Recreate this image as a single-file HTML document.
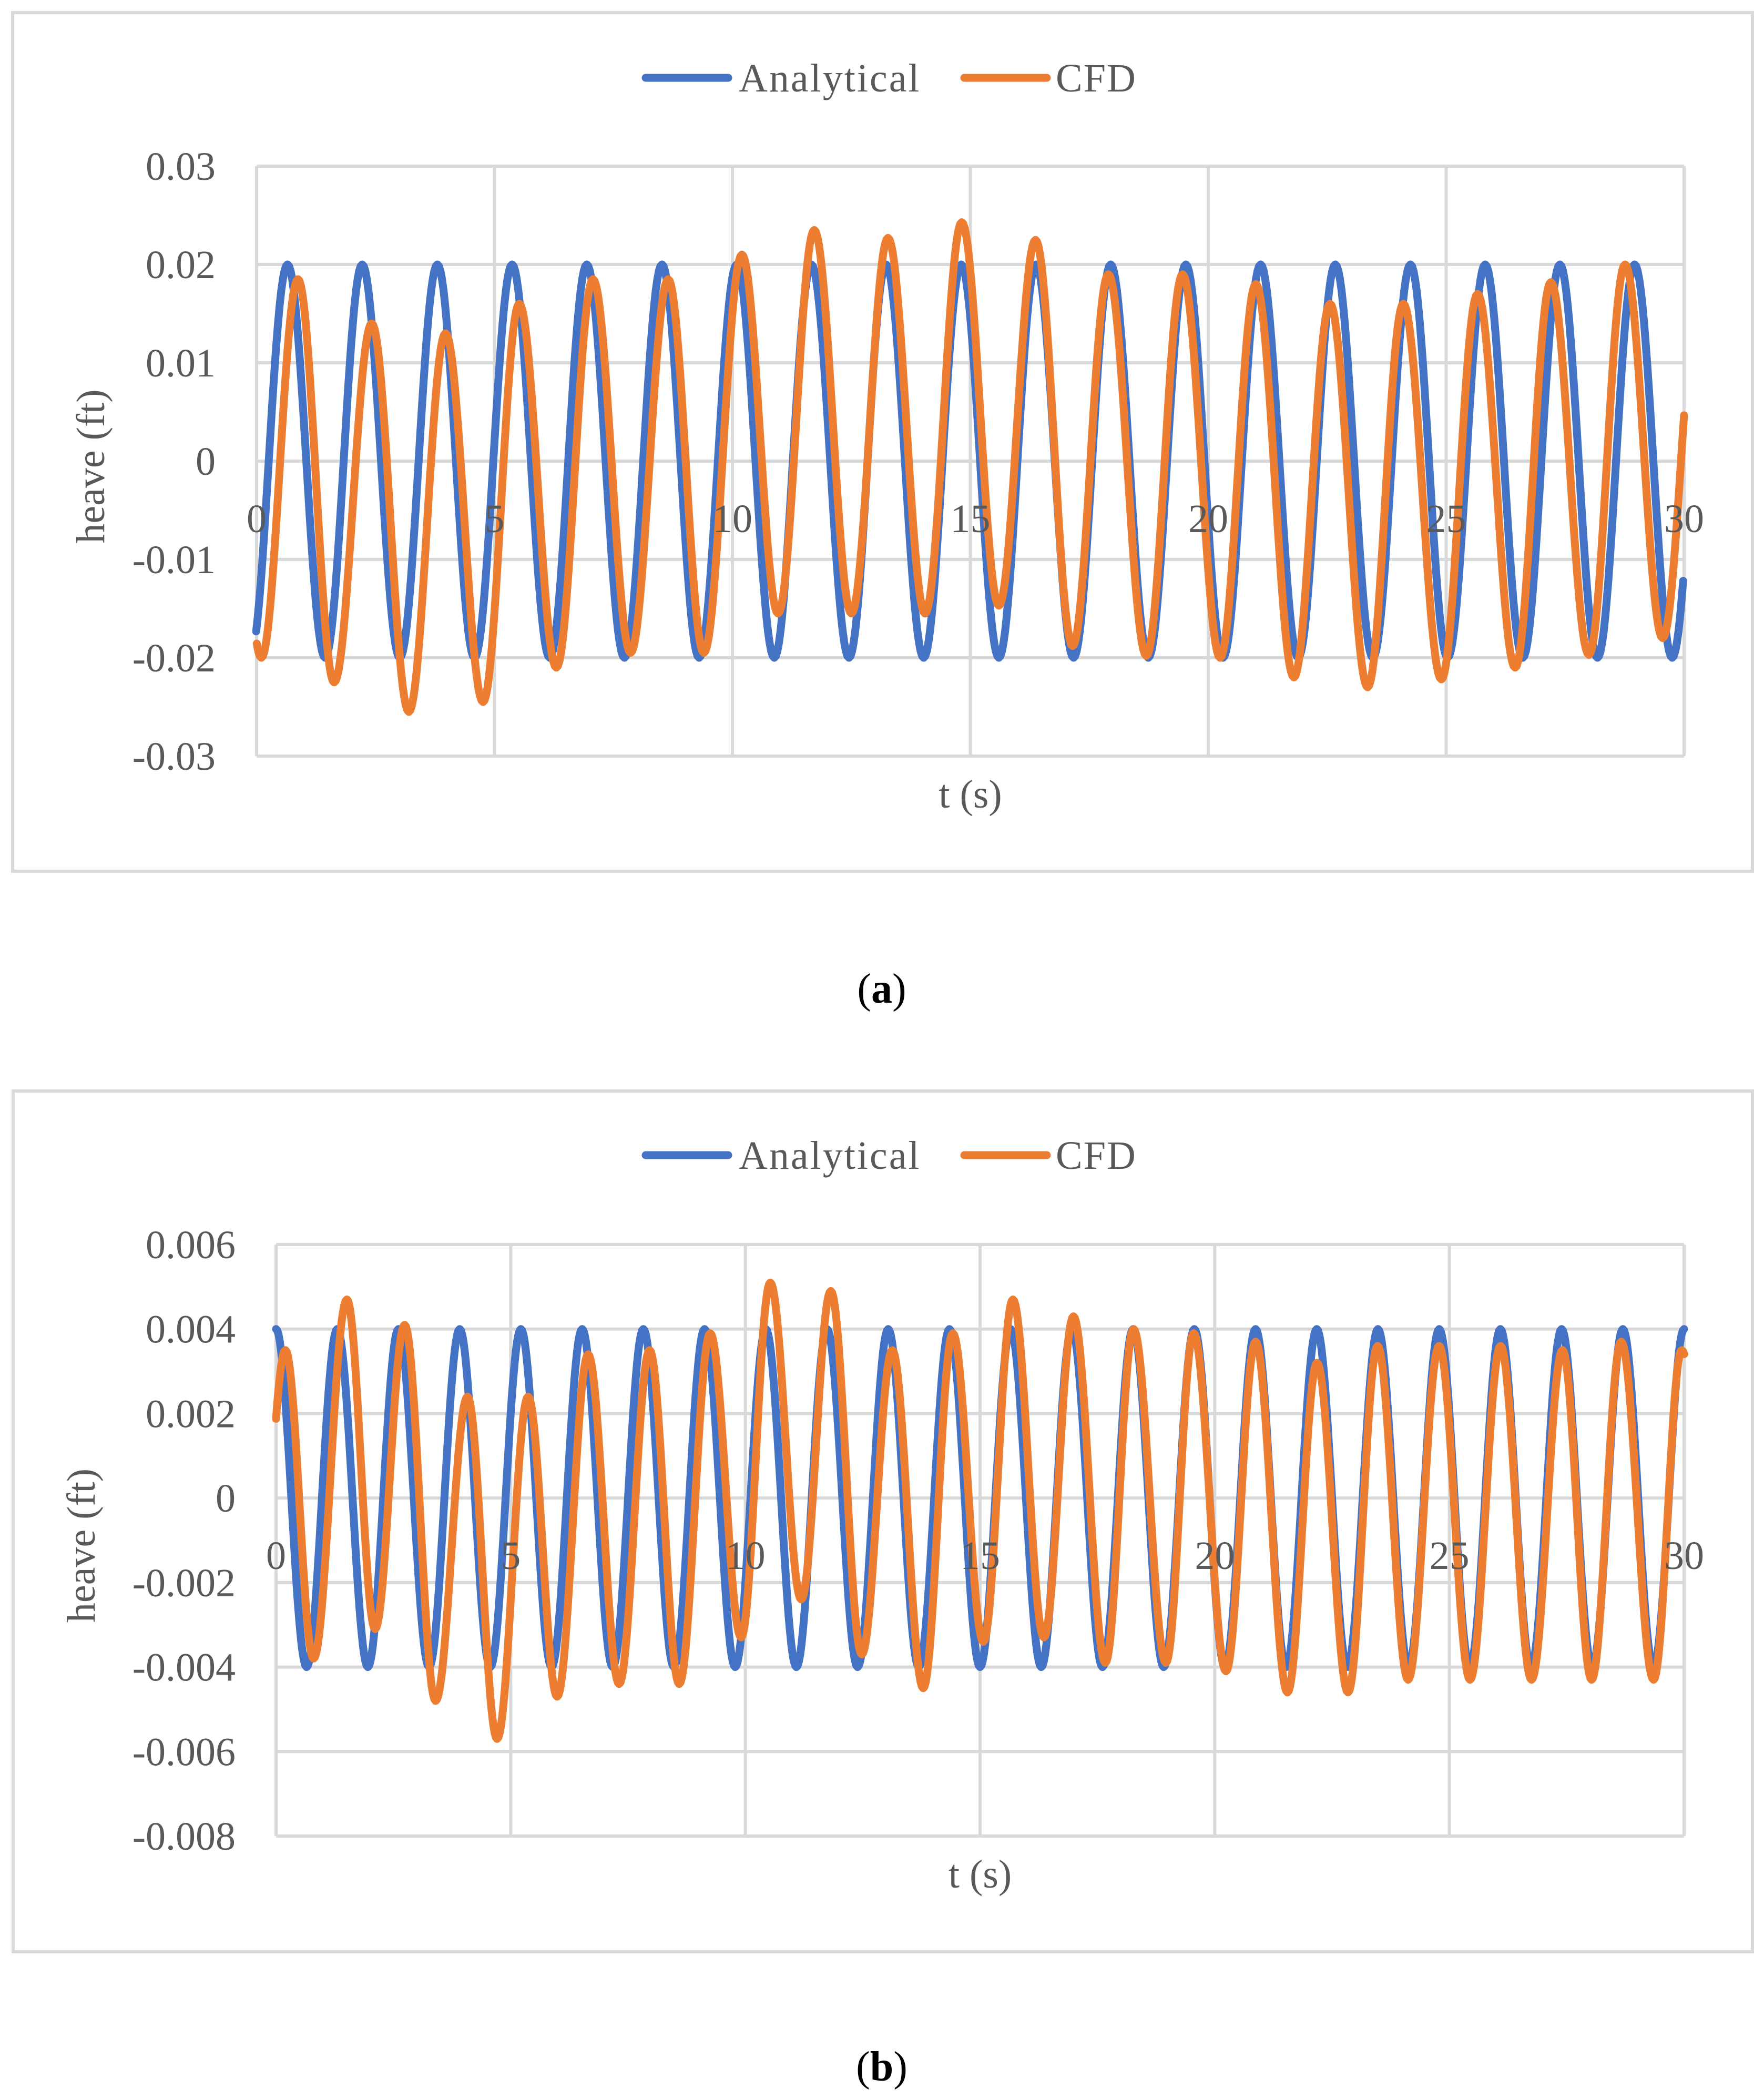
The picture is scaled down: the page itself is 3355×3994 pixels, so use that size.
<!DOCTYPE html>
<html><head><meta charset="utf-8"><style>
html,body{margin:0;padding:0;background:#fff;}
svg{display:block;}
text{font-family:"Liberation Serif",serif;fill:#595959;}
</style></head><body>
<svg id="root" width="3355" height="3994" viewBox="0 0 3355 3994" xmlns="http://www.w3.org/2000/svg">
<text x="1677" y="1907" font-size="80" text-anchor="middle" style="fill:#000">(<tspan font-weight="bold">a</tspan>)</text>
<text x="1677" y="3957" font-size="80" text-anchor="middle" style="fill:#000">(<tspan font-weight="bold">b</tspan>)</text>
</svg>
<script>
// ---------- Chart (a) data ----------
const aXTicks = [0, 5, 10, 15, 20, 25, 30];
const aYTicks = [0.03, 0.02, 0.01, 0, -0.01, -0.02, -0.03];
const aYTickLabels = ["0.03", "0.02", "0.01", "0", "-0.01", "-0.02", "-0.03"];
const aAnalyticalT = [-0.14, 0.65, 1.44, 2.22, 3.01, 3.80, 4.58, 5.37, 6.16, 6.94, 7.73, 8.52, 9.30, 10.09, 10.88, 11.66, 12.45, 13.23, 14.02, 14.81, 15.60, 16.38, 17.17, 17.95, 18.74, 19.53, 20.31, 21.10, 21.89, 22.67, 23.46, 24.25, 25.03, 25.82, 26.61, 27.39, 28.18, 28.96, 29.75, 30.54];
const aAnalyticalV = [-0.02, 0.02, -0.02, 0.02, -0.02, 0.02, -0.02, 0.02, -0.02, 0.02, -0.02, 0.02, -0.02, 0.02, -0.02, 0.02, -0.02, 0.02, -0.02, 0.02, -0.02, 0.02, -0.02, 0.02, -0.02, 0.02, -0.02, 0.02, -0.02, 0.02, -0.02, 0.02, -0.02, 0.02, -0.02, 0.02, -0.02, 0.02, -0.02, 0.02];
const aCfdT = [-0.67, 0.10, 0.87, 1.63, 2.42, 3.20, 3.97, 4.76, 5.52, 6.30, 7.07, 7.86, 8.65, 9.40, 10.20, 10.96, 11.72, 12.50, 13.27, 14.05, 14.82, 15.60, 16.37, 17.15, 17.90, 18.70, 19.46, 20.25, 21.00, 21.80, 22.56, 23.35, 24.10, 24.90, 25.66, 26.45, 27.20, 28.00, 28.76, 29.55, 30.32];
const aCfdV = [0.018, -0.020, 0.0185, -0.0225, 0.014, -0.0255, 0.013, -0.0245, 0.016, -0.021, 0.0185, -0.0195, 0.0185, -0.0195, 0.021, -0.0155, 0.0235, -0.0155, 0.0227, -0.0155, 0.0243, -0.0147, 0.0225, -0.0188, 0.019, -0.0198, 0.019, -0.020, 0.018, -0.022, 0.016, -0.023, 0.016, -0.0222, 0.017, -0.021, 0.0182, -0.0197, 0.020, -0.018, 0.018];

// ---------- Chart (b) data ----------
const bXTicks = [0, 5, 10, 15, 20, 25, 30];
const bYTicks = [0.006, 0.004, 0.002, 0, -0.002, -0.004, -0.006, -0.008];
const bYTickLabels = ["0.006", "0.004", "0.002", "0", "-0.002", "-0.004", "-0.006", "-0.008"];
const bAnalyticalT = [0, 0.652, 1.304, 1.957, 2.609, 3.261, 3.913, 4.565, 5.217, 5.870, 6.522, 7.174, 7.826, 8.478, 9.130, 9.783, 10.435, 11.087, 11.739, 12.391, 13.043, 13.696, 14.348, 15.000, 15.652, 16.304, 16.957, 17.609, 18.261, 18.913, 19.565, 20.217, 20.870, 21.522, 22.174, 22.826, 23.478, 24.130, 24.783, 25.435, 26.087, 26.739, 27.391, 28.043, 28.696, 29.348, 30.0];
const bAnalyticalV = [0.004, -0.004, 0.004, -0.004, 0.004, -0.004, 0.004, -0.004, 0.004, -0.004, 0.004, -0.004, 0.004, -0.004, 0.004, -0.004, 0.004, -0.004, 0.004, -0.004, 0.004, -0.004, 0.004, -0.004, 0.004, -0.004, 0.004, -0.004, 0.004, -0.004, 0.004, -0.004, 0.004, -0.004, 0.004, -0.004, 0.004, -0.004, 0.004, -0.004, 0.004, -0.004, 0.004, -0.004, 0.004, -0.004, 0.004];
const bCfdT = [-0.40, 0.20, 0.80, 1.51, 2.11, 2.74, 3.40, 4.08, 4.71, 5.37, 5.99, 6.65, 7.31, 7.96, 8.59, 9.25, 9.91, 10.53, 11.19, 11.82, 12.48, 13.13, 13.79, 14.42, 15.07, 15.70, 16.36, 16.99, 17.67, 18.27, 18.96, 19.55, 20.24, 20.87, 21.55, 22.18, 22.84, 23.47, 24.12, 24.78, 25.44, 26.09, 26.75, 27.41, 28.03, 28.66, 29.35, 29.95, 30.60];
const bCfdV = [-0.003, 0.0035, -0.0038, 0.0047, -0.0031, 0.0041, -0.0048, 0.0024, -0.0057, 0.0024, -0.0047, 0.0034, -0.0044, 0.0035, -0.0044, 0.0039, -0.0033, 0.0051, -0.0024, 0.0049, -0.0037, 0.0035, -0.0045, 0.0039, -0.0034, 0.0047, -0.0033, 0.0043, -0.0039, 0.0040, -0.0039, 0.0039, -0.0041, 0.0037, -0.0046, 0.0032, -0.0046, 0.0036, -0.0043, 0.0036, -0.0043, 0.0036, -0.0043, 0.0035, -0.0043, 0.0037, -0.0043, 0.0035, -0.0020];

const NS = "http://www.w3.org/2000/svg";
const root = document.getElementById('root');
function mk(tag, attrs, parent) {
  const e = document.createElementNS(NS, tag);
  for (const k in attrs) e.setAttribute(k, attrs[k]);
  (parent || root).appendChild(e);
  return e;
}

function drawChart(id, box, plot, xTicks, yTicks, yLabels, yLabelRight, series, legendY) {
  const g = mk('g', {});
  
  
  const frame = mk('rect', {x: box.x, y: box.y, width: box.w, height: box.h, fill: '#fff', stroke: '#d9d9d9', 'stroke-width': 6}, g);
  
  
  const xMin = 0, xMax = 30, yMax = yTicks[0], yMin = yTicks[yTicks.length - 1];
  const xs = t => plot.l + (t - xMin) / (xMax - xMin) * (plot.r - plot.l);
  const ys = v => plot.t + (yMax - v) / (yMax - yMin) * (plot.b - plot.t);
  yTicks.forEach((v, i) => {
    const ln = mk('line', {x1: plot.l, x2: plot.r, y1: ys(v), y2: ys(v), stroke: '#d9d9d9', 'stroke-width': 6}, g);
    
    
    const tx = mk('text', {x: yLabelRight, y: ys(v) + 26, 'font-size': 76, 'text-anchor': 'end'}, g);
    tx.textContent = yLabels[i];
    
    
  });
  xTicks.forEach(t => {
    const ln = mk('line', {x1: xs(t), x2: xs(t), y1: plot.t, y2: plot.b, stroke: '#d9d9d9', 'stroke-width': 6}, g);
    
    
  });
  const cp = mk('clipPath', {id: 'clip-' + id}, g);
  mk('rect', {x: plot.l - 8, y: plot.t - 40, width: plot.r - plot.l + 16, height: plot.b - plot.t + 80}, cp);
  series.forEach(s => {
    let d = '';
    for (let i = 0; i < s.t.length - 1; i++) {
      const t0 = s.t[i], t1 = s.t[i + 1], v0 = s.v[i], v1 = s.v[i + 1];
      const n = 24;
      for (let k = (i === 0 ? 0 : 1); k <= n; k++) {
        const f = k / n;
        const t = t0 + (t1 - t0) * f;
        const v = v0 + (v1 - v0) * (1 - Math.cos(Math.PI * f)) / 2;
        if (t < xMin - 0.01 || t > xMax + 0.01) continue;
        d += (d ? 'L' : 'M') + xs(t).toFixed(1) + ',' + ys(v).toFixed(1);
      }
    }
    const p = mk('path', {d: d, fill: 'none', stroke: s.color, 'stroke-width': 15, 'stroke-linejoin': 'round', 'stroke-linecap': 'round', 'clip-path': 'url(#clip-' + id + ')'}, g);
    
    
  });
  xTicks.forEach(t => {
    const tx = mk('text', {x: xs(t), y: ys(0) + 135, 'font-size': 76, 'text-anchor': 'middle'}, g);
    tx.textContent = String(t);
    
    
  });
  const xt = mk('text', {x: (plot.l + plot.r) / 2, y: plot.b + 98, 'font-size': 76, 'text-anchor': 'middle'}, g);
  xt.textContent = 't (s)';
  
  
  const cy = (plot.t + plot.b) / 2 + 10;
  const yt = mk('text', {x: 0, y: 0, 'font-size': 76, 'text-anchor': 'middle', transform: 'translate(' + (id === 'a' ? 198 : 180) + ',' + cy + ') rotate(-90)'}, g);
  yt.textContent = 'heave (ft)';
  
  
  const lg = mk('g', {}, g);
  
  
  const l1 = mk('line', {x1: 1228, x2: 1385, y1: legendY, y2: legendY, stroke: '#4472c4', 'stroke-width': 15, 'stroke-linecap': 'round'}, lg);
  
  
  const t1 = mk('text', {x: 1405, y: legendY + 26, 'font-size': 76, 'letter-spacing': 3}, lg);
  t1.textContent = 'Analytical';
  
  
  const l2 = mk('line', {x1: 1834, x2: 1991, y1: legendY, y2: legendY, stroke: '#ed7d31', 'stroke-width': 15, 'stroke-linecap': 'round'}, lg);
  
  
  const t2 = mk('text', {x: 2008, y: legendY + 26, 'font-size': 76, 'letter-spacing': 2}, lg);
  t2.textContent = 'CFD';
  
  
}

drawChart('a', {x: 24, y: 24, w: 3309, h: 1633}, {l: 488, t: 316, r: 3203, b: 1438},
  aXTicks, aYTicks, aYTickLabels, 410,
  [{name: 'analytical', t: aAnalyticalT, v: aAnalyticalV, color: '#4472c4'},
   {name: 'cfd', t: aCfdT, v: aCfdV, color: '#ed7d31'}], 148);

drawChart('b', {x: 25, y: 2075, w: 3308, h: 1637}, {l: 525, t: 2367, r: 3203, b: 3492},
  bXTicks, bYTicks, bYTickLabels, 448,
  [{name: 'analytical', t: bAnalyticalT, v: bAnalyticalV, color: '#4472c4'},
   {name: 'cfd', t: bCfdT, v: bCfdV, color: '#ed7d31'}], 2197);
</script>
</body></html>
